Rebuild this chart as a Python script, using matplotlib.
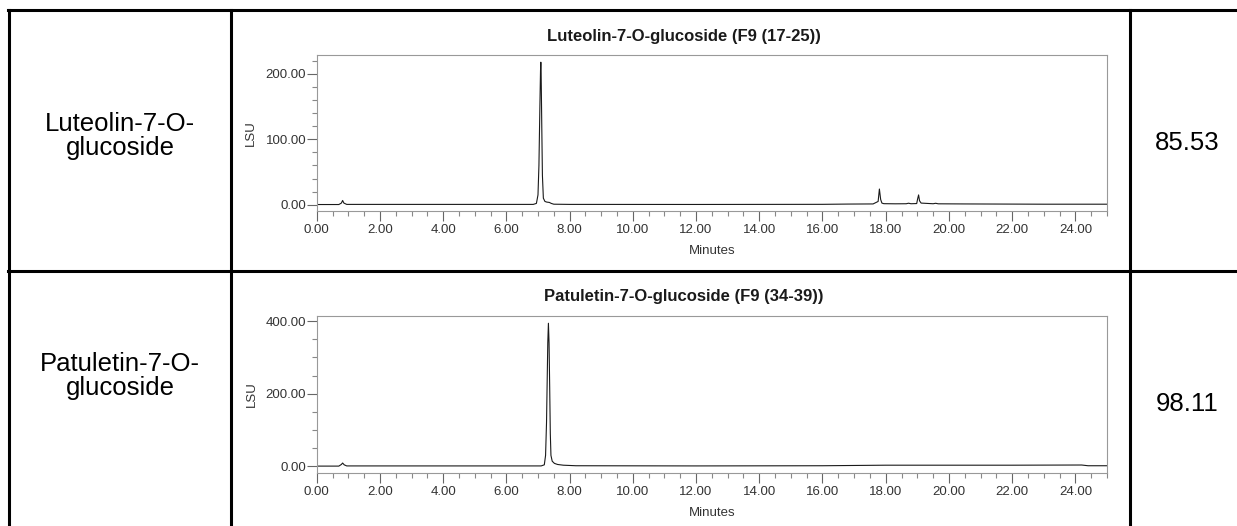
import numpy as np
import matplotlib.pyplot as plt
from matplotlib.lines import Line2D
from matplotlib.ticker import MultipleLocator, FormatStrFormatter

plt.rcParams['font.family'] = ['Liberation Sans', 'DejaVu Sans']

# compuestos y pureza (%)
compuestos = ["Luteolin-7-O-\nglucoside", "Patuletin-7-O-\nglucoside"]
pureza = ["85.53", "98.11"]
titulos = ["Luteolin-7-O-glucoside (F9 (17-25))", "Patuletin-7-O-glucoside (F9 (34-39))"]

# cromatograma 1 (min, LSU)
t1 = [0.00, 0.70, 0.78, 0.82, 0.86, 0.95, 6.85, 6.95, 7.00, 7.03, 7.06, 7.08, 7.09,
      7.10, 7.12, 7.14, 7.17, 7.22, 7.28, 7.36, 7.42, 7.50, 8.00, 12.0, 16.0, 16.8,
      17.6, 17.76, 17.80, 17.84, 17.88, 17.94, 18.3, 18.65, 18.72, 18.80, 18.98,
      19.01, 19.04, 19.07, 19.12, 19.5, 19.58, 19.66, 20.5, 23.0, 25.0]
s1 = [0.3, 0.3, 2.5, 6.5, 2.5, 0.5, 0.5, 2.0, 15, 60, 150, 205, 218,
      200, 120, 45, 10, 5.0, 4.0, 3.5, 2.0, 0.8, 0.5, 0.4, 0.6, 1.0,
      1.2, 5, 24, 8, 2.5, 1.6, 1.4, 1.5, 2.3, 1.5, 1.8,
      9, 15, 6, 2.5, 1.5, 2.2, 1.4, 1.2, 0.8, 0.8]

# cromatograma 2
t2 = [0.00, 0.70, 0.78, 0.82, 0.87, 0.95, 7.10, 7.20, 7.24, 7.27, 7.29, 7.31, 7.33,
      7.35, 7.37, 7.39, 7.41, 7.45, 7.52, 7.62, 7.80, 8.20, 12.0, 16.0, 18.0, 22.0,
      24.2, 24.4, 25.0]
s2 = [0.5, 0.5, 5, 9, 4, 1.0, 1.0, 4, 30, 120, 230, 340, 394,
      340, 220, 90, 30, 14, 8, 5, 3, 1.5, 1.0, 1.5, 3.0, 3.0,
      3.5, 1.5, 1.5]

datos = [(t1, s1), (t2, s2)]
ylims = [(-9.6, 229), (-18.5, 414)]
mayor = [100, 200]
menor = [20, 50]

W, H = 1237, 526
fig = plt.figure(figsize=(W / 100, H / 100), dpi=100)

def fx(px):
    return px / W

def fy(py):
    return 1 - py / H

# lineas de la tabla
for x in [9, 231, 1130]:
    fig.add_artist(Line2D([fx(x), fx(x)], [fy(10), fy(540)], color="black", lw=2.2))
for y in [10, 271]:
    fig.add_artist(Line2D([fx(8), fx(1240)], [fy(y), fy(y)], color="black", lw=2.2))

texto_y = [136, 376]
num_y = [143, 404]
ax_top = [55, 316]
ax_bot = [211, 473]
titulo_y = [37, 297]

for i in range(2):
    fig.text(fx(120), fy(texto_y[i]), compuestos[i], ha="center", va="center",
             fontsize=18.5, linespacing=1.05)
    fig.text(fx(1187), fy(num_y[i]), pureza[i], ha="center", va="center", fontsize=18.5)

    ax = fig.add_axes([fx(316.7), fy(ax_bot[i]), fx(1107 - 316.7), (ax_bot[i] - ax_top[i]) / H])
    t, s = datos[i]
    ax.plot(t, s, color="#1a1a1a", lw=0.8)
    ax.set_xlim(0, 25)
    ax.set_ylim(*ylims[i])
    ax.xaxis.set_major_locator(MultipleLocator(2))
    ax.xaxis.set_minor_locator(MultipleLocator(0.5))
    ax.yaxis.set_major_locator(MultipleLocator(mayor[i]))
    ax.yaxis.set_minor_locator(MultipleLocator(menor[i]))
    ax.xaxis.set_major_formatter(FormatStrFormatter("%.2f"))
    ax.yaxis.set_major_formatter(FormatStrFormatter("%.2f"))
    for sp in ax.spines.values():
        sp.set_color("#999999")
        sp.set_linewidth(0.8)
    ax.tick_params(which="major", length=7, width=0.8, color="#666666",
                   labelsize=9.5, labelcolor="#333333")
    ax.tick_params(which="minor", length=3.5, width=0.8, color="#888888")
    ax.tick_params(axis="x", which="major", pad=2.5)
    ax.tick_params(axis="y", which="major", pad=0.5)
    ax.set_xlabel("Minutes", fontsize=9.5, color="#333333", labelpad=6)
    ax.set_ylabel("LSU", fontsize=9.5, color="#333333", labelpad=6)
    fig.text(fx(684), fy(titulo_y[i]), titulos[i], ha="center", va="center",
             fontsize=12, fontweight="bold", color="#1a1a1a")

plt.savefig("out.png", dpi=100)
